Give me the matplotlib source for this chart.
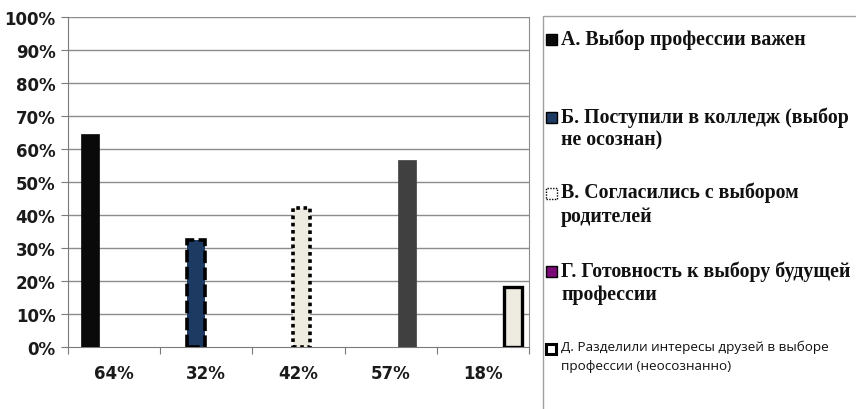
import matplotlib
matplotlib.use('Agg')
import matplotlib.pyplot as plt
from matplotlib.patches import Rectangle
import numpy as np

# data
categories = ['64%', '32%', '42%', '57%', '18%']
values = [64.5, 32.5, 42.0, 56.8, 18.3]
labels = [
    'А. Выбор профессии важен',
    'Б. Поступили в колледж (выбор\nне осознан)',
    'В. Согласились с выбором\nродителей',
    'Г. Готовность к выбору будущей\nпрофессии',
    'Д. Разделили интересы друзей в выборе\nпрофессии (неосознанно)',
]
yticks = [0, 10, 20, 30, 40, 50, 60, 70, 80, 90, 100]

face_colors = ['#0a0a0a', '#1d3a63', '#eeebe0', '#404040', '#eeebe0']
edge_colors = ['#0a0a0a', '#000000', '#000000', '#404040', '#000000']
edge_styles = ['-', (0, (3.5, 1.2)), (0, (1, 1)), '-', '-']
edge_widths = [0.5, 2.6, 2.6, 0.5, 2.4]
marker_colors = ['#0a0a0a', '#1d3a63', '#ffffff', '#7a0a7a', '#ffffff']

W, H = 856, 410
fig = plt.figure(figsize=(W / 100, H / 100), dpi=100)
ax = fig.add_axes([68 / W, 1 - 348 / H, (529 - 68) / W, (348 - 18) / H])

ax.set_xlim(0, 5)
ax.set_ylim(0, 100)

grid_col = '#8c8c8c'
for y in yticks[1:]:
    ax.axhline(y, color=grid_col, lw=1.0, zorder=0)

# one series per category, only its own category is non-zero
n = len(values)
offset0 = 0.24
step = 0.146
width = 0.19
for j in range(n):
    x = np.arange(n) + offset0 + j * step
    h = [values[j] if i == j else 0 for i in range(n)]
    ax.bar(x[j], h[j], width=width, color=face_colors[j], edgecolor=edge_colors[j],
           linestyle=edge_styles[j], linewidth=edge_widths[j], zorder=3)

ax.spines['top'].set_visible(False)
ax.spines['right'].set_color(grid_col)
ax.spines['left'].set_color('#7a7a7a')
ax.spines['bottom'].set_color('#7a7a7a')

ax.set_yticks(yticks)
ax.set_yticklabels([f'{v}%' for v in yticks], fontsize=12, fontweight='bold', color='#1a1a1a')
ax.tick_params(axis='y', length=5, color='#7a7a7a', pad=4)

ax.set_xticks(range(n + 1))
ax.set_xticklabels([''] * (n + 1))
ax.set_xticks(np.arange(n) + 0.5, minor=True)
ax.set_xticklabels(categories, minor=True, fontsize=12, fontweight='bold', color='#1a1a1a')
ax.tick_params(axis='x', which='major', length=5, color='#7a7a7a')
ax.tick_params(axis='x', which='minor', length=0, pad=12)

# legend box
fig.patches.append(Rectangle((543 / W, -0.1), 1.0, 1 - 17 / H + 0.1, transform=fig.transFigure,
                             fill=False, edgecolor='#a0a0a0', lw=1.0))

entry_y = [40, 118, 194, 272, 350]
for k, lab in enumerate(labels):
    yc = 1 - entry_y[k] / H
    ms = 11 if k < 4 else 10
    lw = 1.0 if k < 4 else 2.2
    ls = '-' if k != 2 else (0, (1, 1))
    fig.patches.append(Rectangle((546 / W, yc - ms / 2 / H), ms / W, ms / H, transform=fig.transFigure,
                                 facecolor=marker_colors[k], edgecolor='black', lw=lw, linestyle=ls))
    if k < 4:
        fig.text(561 / W, yc + 11 / H, lab, fontsize=14.3, fontweight='bold', family='Liberation Serif',
                 va='top', ha='left', color='#111111', linespacing=1.22)
    else:
        fig.text(561 / W, yc + 9 / H, lab, fontsize=9.7, family='Open Sans',
                 va='top', ha='left', color='#111111', linespacing=1.55)

fig.savefig('out.png', dpi=100)
